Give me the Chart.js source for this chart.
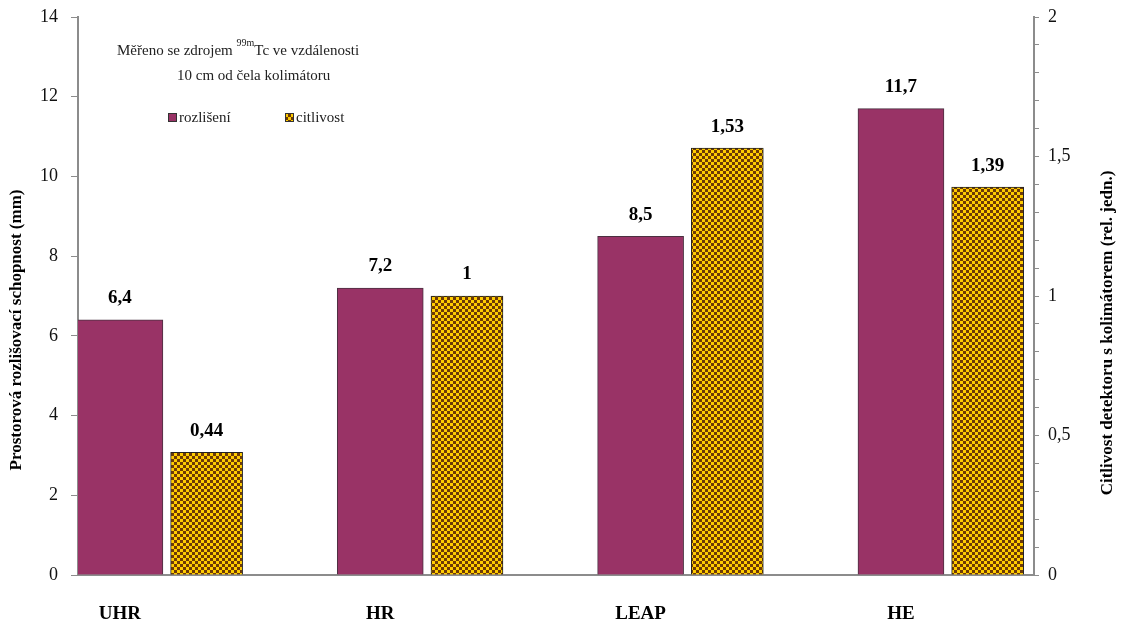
<!DOCTYPE html>
<html lang="cs">
<head>
  <meta charset="UTF-8">
  <title>Kolimátory – rozlišení a citlivost</title>
  <script src="https://cdn.jsdelivr.net/npm/chart.js"></script>
  <style>
    html, body { margin: 0; padding: 0; background: #fff; }
    #wrap { width: 1123px; height: 624px; position: relative; }
  </style>
</head>
<body>
  <div id="wrap"><canvas id="graf"></canvas></div>

  <script>
    // data z obrázku
    const kategorie = ['UHR', 'HR', 'LEAP', 'HE'];
    const rozliseni = [6.4, 7.2, 8.5, 11.7];      // mm, levá osa
    const citlivost = [0.44, 1, 1.53, 1.39];      // rel. jedn., pravá osa
    const levaOsaTicky = [0, 2, 4, 6, 8, 10, 12, 14];
    const pravaOsaTicky = [0, 0.5, 1, 1.5, 2];

    const font = "'Liberation Serif', 'Times New Roman', serif";
    const fialova = '#993366';

    // kostkovaný vzor pro citlivost
    function vzor() {
      const c = document.createElement('canvas');
      c.width = 6; c.height = 6;
      const g = c.getContext('2d');
      g.fillStyle = '#ffcc00';
      g.fillRect(0, 0, 6, 6);
      g.fillStyle = '#6e3a06';
      g.fillRect(0, 0, 3, 3);
      g.fillRect(3, 3, 3, 3);
      return g.createPattern(c, 'repeat');
    }
    const zluta = vzor();

    const carka = v => String(v).replace('.', ',');

    const popisky = {
      id: 'popisky',
      afterDatasetsDraw(chart) {
        const ctx = chart.ctx;
        ctx.save();
        ctx.fillStyle = '#000';
        ctx.font = 'bold 19px ' + font;
        ctx.textAlign = 'center';
        ctx.textBaseline = 'bottom';
        chart.data.datasets.forEach((ds, di) => {
          chart.getDatasetMeta(di).data.forEach((bar, i) => {
            ctx.fillText(carka(ds.data[i].y), bar.x, bar.y - 12);
          });
        });
        ctx.restore();
      },
      afterDraw(chart) {
        const ctx = chart.ctx;
        ctx.save();
        ctx.fillStyle = '#000';
        // titulky os
        ctx.font = 'bold 17px ' + font;
        ctx.textAlign = 'center';
        ctx.textBaseline = 'middle';
        ctx.translate(17, 330);
        ctx.rotate(-Math.PI / 2);
        ctx.fillText('Prostorová rozlišovací schopnost (mm)', 0, 0);
        ctx.setTransform(1, 0, 0, 1, 0, 0);
        ctx.font = 'bold 17px ' + font;
        ctx.translate(1108, 333);
        ctx.rotate(-Math.PI / 2);
        ctx.fillText('Citlivost detektoru s kolimátorem (rel. jedn.)', 0, 0);
        ctx.setTransform(1, 0, 0, 1, 0, 0);

        // poznámka
        ctx.textAlign = 'left';
        ctx.textBaseline = 'alphabetic';
        ctx.fillStyle = '#222';
        let x = 117;
        const t1 = 'Měřeno se zdrojem ';
        ctx.font = '15px ' + font;
        ctx.fillText(t1, x, 55);
        x += ctx.measureText(t1).width;
        ctx.font = '10px ' + font;
        ctx.fillText('99m', x, 46);
        x += ctx.measureText('99m').width;
        ctx.font = '15px ' + font;
        ctx.fillText('Tc ve vzdálenosti', x, 55);
        ctx.fillText('10 cm od čela kolimátoru', 177, 80);

        // legenda
        const leg = [[168, chart.data.datasets[0]], [285, chart.data.datasets[1]]];
        leg.forEach(([lx, ds]) => {
          ctx.fillStyle = ds.backgroundColor;
          ctx.fillRect(lx, 113, 8, 8);
          ctx.strokeStyle = '#333';
          ctx.lineWidth = 1;
          ctx.strokeRect(lx + 0.5, 113.5, 8, 8);
          ctx.fillStyle = '#222';
          ctx.font = '15px ' + font;
          ctx.fillText(ds.label, lx + 11, 122);
        });
        ctx.restore();
      }
    };

    new Chart(document.getElementById('graf'), {
      type: 'bar',
      data: {
        datasets: [{
          label: 'rozlišení',
          data: rozliseni.map((v, i) => ({ x: i, y: v })),
          backgroundColor: fialova,
          borderColor: '#4a3040',
          borderWidth: 1,
          barThickness: 86,
          yAxisID: 'y'
        }, {
          label: 'citlivost',
          data: citlivost.map((v, i) => ({ x: i + 0.333, y: v })),
          backgroundColor: zluta,
          borderColor: '#222',
          borderWidth: 1,
          barThickness: 72,
          yAxisID: 'y2'
        }]
      },
      options: {
        responsive: true,
        maintainAspectRatio: false,
        animation: false,
        events: [],
        grouped: false,
        layout: { padding: { top: 17, left: 0, right: 0, bottom: 0 } },
        plugins: { legend: { display: false }, tooltip: { enabled: false } },
        scales: {
          x: {
            type: 'linear',
            offset: false,
            min: -0.161,
            max: 3.511,
            afterBuildTicks: s => { s.ticks = kategorie.map((k, i) => ({ value: i })); },
            afterFit: s => { s.height = 49; s.paddingLeft = 0; s.paddingRight = 0; },
            grid: { display: false, offset: false },
            border: { color: '#8c8c8c', width: 2 },
            ticks: {
              callback: v => kategorie[v],
              padding: 20,
              maxRotation: 0,
              color: '#000',
              font: { family: font, size: 19, weight: 'bold' }
            }
          },
          y: {
            position: 'left',
            min: 0, max: 14,
            afterBuildTicks: s => { s.ticks = levaOsaTicky.map(v => ({ value: v })); },
            afterFit: s => { s.width = 78; s.paddingTop = 0; s.paddingBottom = 0; },
            grid: { drawOnChartArea: false, tickLength: 7, color: '#8c8c8c' },
            border: { color: '#8c8c8c', width: 2 },
            ticks: { color: '#111', padding: 13, font: { family: font, size: 18 } }
          },
          y2: {
            position: 'right',
            min: 0, max: 2,
            afterBuildTicks: s => {
              const t = [];
              for (let k = 0; k <= 20; k++) t.push({ value: k / 10 });
              s.ticks = t;
            },
            afterFit: s => { s.width = 89; s.paddingTop = 0; s.paddingBottom = 0; },
            grid: { drawOnChartArea: false, tickLength: 5, color: '#8c8c8c' },
            border: { color: '#8c8c8c', width: 2 },
            ticks: {
              autoSkip: false,
              color: '#111',
              padding: 9,
              font: { family: font, size: 18 },
              callback: v => pravaOsaTicky.some(p => Math.abs(p - v) < 1e-6) ? carka(Math.round(v * 10) / 10) : ''
            }
          }
        }
      },
      plugins: [popisky]
    });
  </script>
</body>
</html>
